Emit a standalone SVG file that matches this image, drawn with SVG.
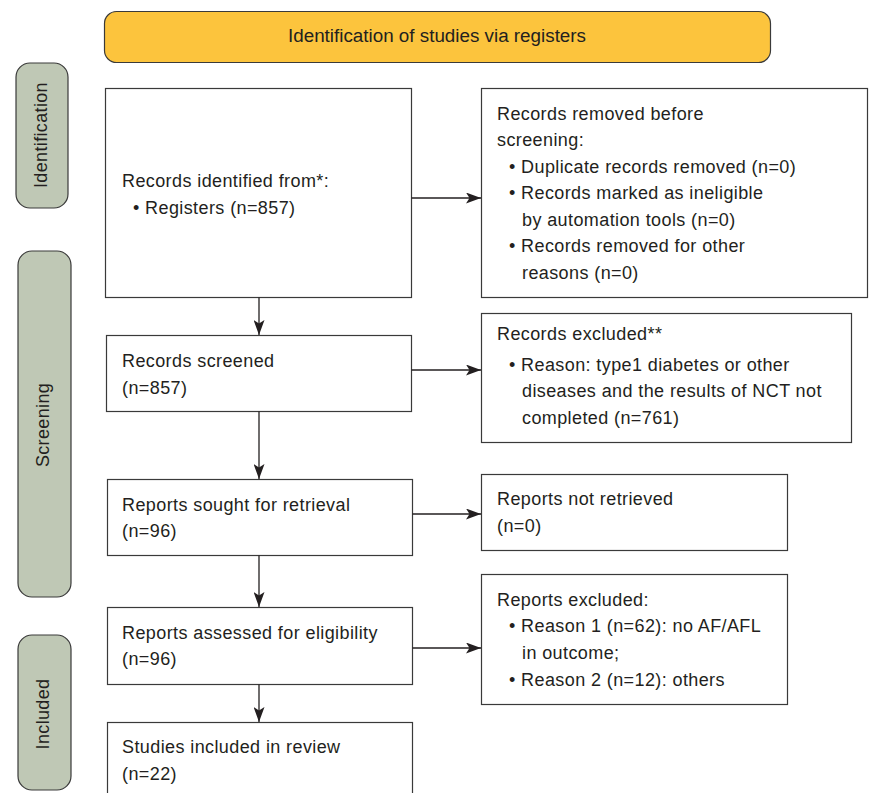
<svg xmlns="http://www.w3.org/2000/svg" width="869" height="793" viewBox="0 0 869 793">
<style>
  .box { fill: #ffffff; stroke: #3a3a3a; stroke-width: 1.2; }
  .side { fill: #bfc8b5; stroke: #3a3a3a; stroke-width: 1.2; }
  .hdr { fill: #fcc43d; stroke: #3a3a3a; stroke-width: 1.2; }
  .t { font-family: "Liberation Sans", Arial, sans-serif; font-size: 18px; letter-spacing: 0.4px; fill: #231f20; }
  .side-t { font-family: "Liberation Sans", Arial, sans-serif; font-size: 18px; letter-spacing: 0.35px; fill: #231f20; text-anchor: middle; }
  .conn { stroke: #231f20; stroke-width: 1.3; fill: none; marker-end: url(#arr); }
</style>
<defs>
  <marker id="arr" viewBox="0 0 15 11" refX="15" refY="5.5" markerWidth="15" markerHeight="11" markerUnits="userSpaceOnUse" orient="auto">
    <path d="M0,0 L15,5.5 L0,11 L3.5,5.5 z" fill="#231f20"/>
  </marker>
</defs>
<rect width="869" height="793" fill="#ffffff"/>

<g id="header">
  <rect class="hdr" x="104.5" y="11.5" width="666" height="51" rx="12"/>
  <text x="437" y="42" font-family="'Liberation Sans', Arial, sans-serif" font-size="18" fill="#231f20" text-anchor="middle" textLength="298" lengthAdjust="spacingAndGlyphs">Identification of studies via registers</text>
</g>

<g id="side-identification">
  <rect class="side" x="16" y="63" width="52" height="145" rx="14"/>
  <text class="side-t" transform="translate(47,135) rotate(-90)">Identification</text>
</g>
<g id="side-screening">
  <rect class="side" x="18" y="251" width="53" height="346" rx="14"/>
  <text class="side-t" transform="translate(49,425) rotate(-90)">Screening</text>
</g>
<g id="side-included">
  <rect class="side" x="18" y="635" width="53" height="155" rx="14"/>
  <text class="side-t" transform="translate(49,714) rotate(-90)">Included</text>
</g>

<g id="records-identified">
  <rect class="box" x="105.5" y="88.5" width="306" height="209"/>
  <text class="t" x="122" y="187">Records identified from*:</text>
  <text class="t" x="133" y="214">• Registers (n=857)</text>
</g>

<g id="records-removed">
  <rect class="box" x="481.5" y="88.5" width="386" height="209"/>
  <text class="t" x="497" y="120">Records removed before</text>
  <text class="t" x="497" y="146">screening:</text>
  <text class="t" x="509" y="173">• Duplicate records removed (n=0)</text>
  <text class="t" x="509" y="199">• Records marked as ineligible</text>
  <text class="t" x="522" y="226">by automation tools (n=0)</text>
  <text class="t" x="509" y="252">• Records removed for other</text>
  <text class="t" x="522" y="279">reasons (n=0)</text>
</g>

<g id="records-screened">
  <rect class="box" x="106.5" y="335.5" width="305" height="76"/>
  <text class="t" x="122" y="367">Records screened</text>
  <text class="t" x="122" y="394">(n=857)</text>
</g>

<g id="records-excluded">
  <rect class="box" x="481.5" y="313.5" width="370" height="129"/>
  <text class="t" x="497" y="340">Records excluded**</text>
  <text class="t" x="509" y="371">• Reason: type1 diabetes or other</text>
  <text class="t" x="522" y="397">diseases and the results of NCT not</text>
  <text class="t" x="522" y="424">completed (n=761)</text>
</g>

<g id="reports-sought">
  <rect class="box" x="107.5" y="479.5" width="305" height="76"/>
  <text class="t" x="122" y="511">Reports sought for retrieval</text>
  <text class="t" x="122" y="537">(n=96)</text>
</g>

<g id="reports-not-retrieved">
  <rect class="box" x="481.5" y="474.5" width="306" height="76"/>
  <text class="t" x="497" y="505">Reports not retrieved</text>
  <text class="t" x="497" y="532">(n=0)</text>
</g>

<g id="reports-assessed">
  <rect class="box" x="107.5" y="607.5" width="305" height="77"/>
  <text class="t" x="122" y="639">Reports assessed for eligibility</text>
  <text class="t" x="122" y="665">(n=96)</text>
</g>

<g id="reports-excluded">
  <rect class="box" x="481.5" y="574.5" width="306" height="130"/>
  <text class="t" x="497" y="606">Reports excluded:</text>
  <text class="t" x="509" y="632">• Reason 1 (n=62): no AF/AFL</text>
  <text class="t" x="522" y="659">in outcome;</text>
  <text class="t" x="509" y="686">• Reason 2 (n=12): others</text>
</g>

<g id="studies-included">
  <rect class="box" x="107.5" y="722.5" width="305" height="80"/>
  <text class="t" x="122" y="753">Studies included in review</text>
  <text class="t" x="122" y="780">(n=22)</text>
</g>

<g id="connectors">
  <line class="conn" x1="411.5" y1="198" x2="481" y2="198"/>
  <line class="conn" x1="259" y1="297.5" x2="259" y2="335"/>
  <line class="conn" x1="411.5" y1="370" x2="481" y2="370"/>
  <line class="conn" x1="259" y1="411.5" x2="259" y2="479"/>
  <line class="conn" x1="412.5" y1="514" x2="481" y2="514"/>
  <line class="conn" x1="259" y1="555.5" x2="259" y2="607"/>
  <line class="conn" x1="412.5" y1="648" x2="481" y2="648"/>
  <line class="conn" x1="259" y1="684.5" x2="259" y2="722"/>
</g>
</svg>
